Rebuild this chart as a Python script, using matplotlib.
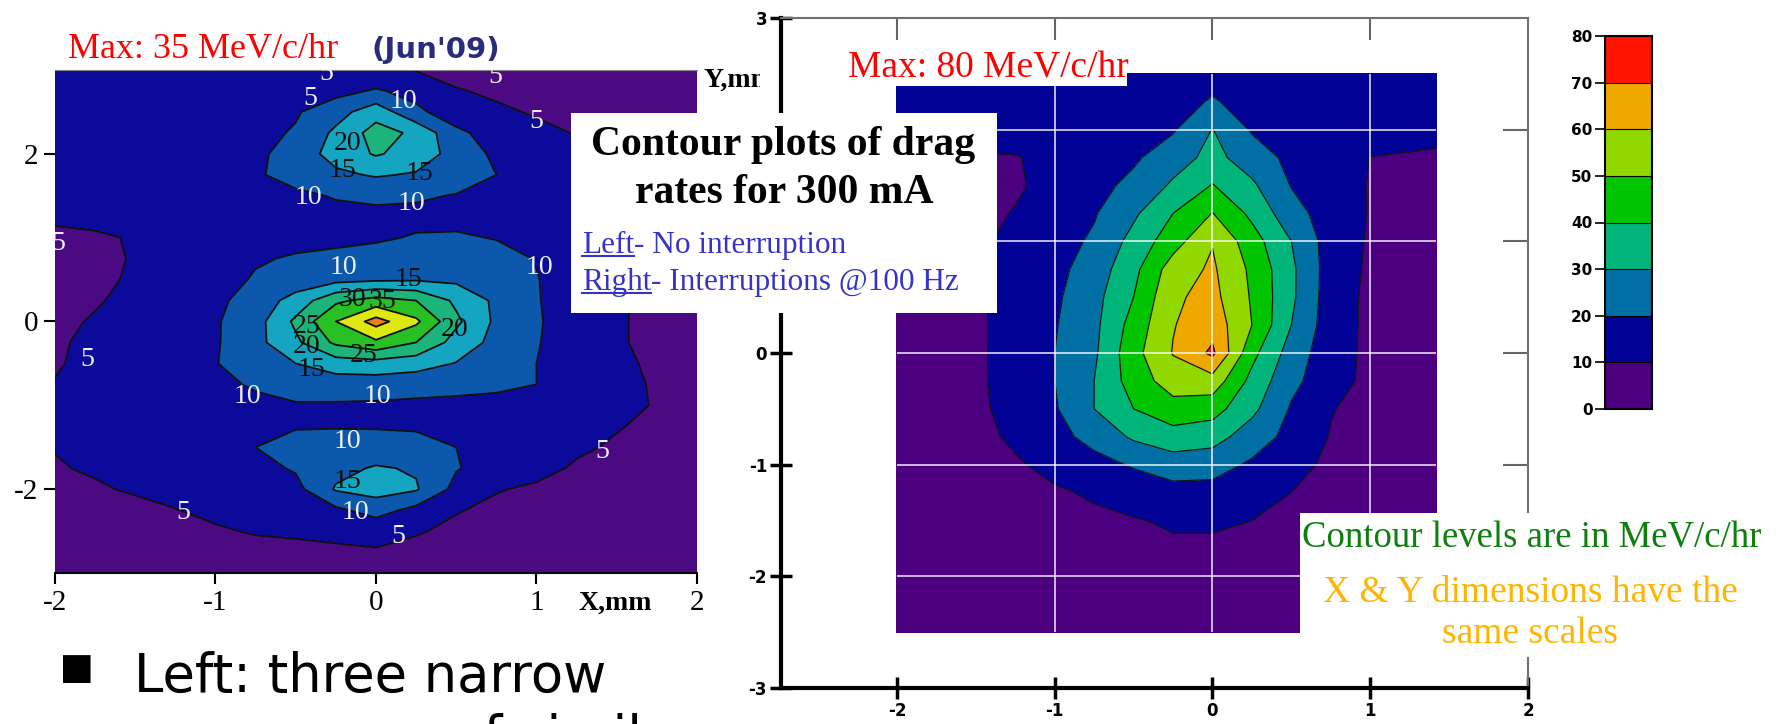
import matplotlib
matplotlib.use("Agg")
import matplotlib.pyplot as plt
from matplotlib.patches import Rectangle
from matplotlib.lines import Line2D

W, H = 1781, 724
SERIF = ["Liberation Serif", "DejaVu Serif"]
plt.rcParams["axes.unicode_minus"] = False

# ---- left panel: drag rate, no interruption (MeV/c/hr) ----
left_x = [-2.0, -1.75, -1.5, -1.25, -1.0, -0.75, -0.5, -0.25, 0.0,
          0.25, 0.5, 0.75, 1.0, 1.25, 1.5, 1.75, 2.0]
left_y = [3.0, 2.75, 2.5, 2.25, 2.0, 1.75, 1.5, 1.25, 1.0, 0.75, 0.5, 0.25, 0.0,
          -0.25, -0.5, -0.75, -1.0, -1.25, -1.5, -1.75, -2.0, -2.25, -2.5, -2.75, -3.0]
left_rate = [
    [6, 6, 6, 6, 6.5, 6.5, 5.5, 5.2, 6, 4.8, 3.5, 3, 3, 3, 3, 3, 3],
    [6, 6.5, 7, 7, 7, 7, 7.5, 8.5, 10.5, 8.5, 5.3, 4.3, 3.5, 3, 3, 3, 3],
    [6, 6.5, 7, 7, 7.5, 8, 9.5, 13, 18, 11, 7.5, 5.7, 4.6, 4, 3.5, 3, 3],
    [6, 6.5, 7, 7.5, 8, 8.5, 10.5, 16, 22, 19, 11, 8, 6, 4.8, 4, 3.5, 3],
    [6, 6.5, 7, 7.5, 8, 9, 12, 17, 20.5, 18, 13, 9, 7, 5.5, 4.5, 4, 3.5],
    [6, 6.5, 7, 7.5, 8, 9.5, 11.5, 14, 15.5, 14.5, 12, 10, 7.5, 6, 5, 4.5, 4],
    [6, 6.5, 7, 7.5, 8, 8.5, 9.2, 10.3, 10.8, 10.5, 9.8, 8.5, 7.5, 6, 5.2, 4.8, 4.5],
    [5.8, 6, 6.5, 7, 7.5, 8, 8.5, 8.8, 9, 9, 8.8, 8.5, 7.5, 6.5, 5.2, 4.5, 4],
    [4, 4.5, 5.3, 6.5, 7.5, 8, 8.5, 9, 9.5, 10.3, 10.5, 9.8, 8, 6.5, 5.2, 4.5, 4],
    [3.5, 4, 5.3, 6.5, 7.5, 9.5, 10.5, 11, 11.5, 12, 12, 11.5, 9.8, 7, 5.2, 4.5, 4],
    [3.5, 4.2, 5.5, 6.5, 8, 10.5, 12, 13.5, 14.2, 14.5, 14, 13, 10.2, 7.5, 5.3, 4.3, 3.8],
    [4, 4.8, 5.6, 7, 9, 12, 17, 24, 27, 25, 19, 14, 10.3, 7.5, 5.3, 4.3, 3.8],
    [4.5, 5.2, 6, 7.5, 9.5, 13, 21, 30, 37, 31, 21, 14, 10.5, 7.5, 5.3, 4.3, 3.8],
    [4.7, 5.5, 6.2, 7.5, 9.5, 13.5, 19, 26, 29, 25, 18, 13.5, 10.3, 7.5, 5.3, 4.3, 3.8],
    [4.8, 5.6, 6.3, 7.5, 9.8, 12.5, 15, 17.5, 18, 17, 14.8, 12.5, 10, 7.5, 5.6, 4.5, 3.8],
    [5.1, 6, 6.5, 7.5, 9, 10.5, 12, 12.5, 12.5, 12, 11.5, 11, 10, 7.5, 5.8, 4.7, 4],
    [5.3, 6, 6.5, 7, 8, 9, 9.6, 9.5, 9.3, 9, 8.8, 8.5, 8, 7, 5.8, 4.8, 4],
    [5.5, 6, 6.5, 7, 7.5, 8.5, 9.8, 9.8, 9.7, 9.5, 9, 8, 7, 6, 5.2, 4.3, 4],
    [5.1, 6, 6.3, 6.8, 7.5, 10, 11, 11.5, 11.8, 11.5, 10, 8, 6.5, 5.5, 4.6, 4, 4],
    [4.8, 5.3, 6.2, 6.5, 7, 8.5, 10.5, 13.5, 15.5, 14.5, 10.3, 8, 6, 4.6, 4.3, 4, 4],
    [4.3, 4.7, 5.3, 6, 6.5, 7, 8.5, 15.5, 17, 15.5, 8.5, 5.2, 4.5, 4, 3.8, 3.8, 3.8],
    [3.8, 4, 4.3, 4.9, 5.8, 6.3, 7, 9, 12, 8.5, 5.2, 4.3, 4, 3.8, 3.8, 3.8, 3.8],
    [3.5, 3.5, 3.6, 3.8, 4.6, 5.3, 5.6, 6, 6.5, 5.3, 4.3, 3.8, 3.6, 3.5, 3.5, 3.5, 3.5],
    [3.5, 3.5, 3.5, 3.5, 3.6, 3.8, 4, 4.3, 4.6, 4, 3.7, 3.5, 3.5, 3.5, 3.5, 3.5, 3.5],
    [3.5, 3.5, 3.5, 3.5, 3.5, 3.5, 3.5, 3.5, 3.5, 3.5, 3.5, 3.5, 3.5, 3.5, 3.5, 3.5, 3.5],
]
left_levels = [0, 5, 10, 15, 20, 25, 30, 35, 40]
left_colors = ["#4b0a82", "#0c0a9a", "#0c58ac", "#14a6c0",
               "#1cb47a", "#28c024", "#dce810", "#f07c18"]
left_labels = [
    ("5", -0.41, 2.66), ("5", -0.31, 2.96), ("10", 0.17, 2.63), ("5", 0.74, 2.92),
    ("5", 1.0, 2.39), ("20", -0.18, 2.12), ("15", -0.21, 1.8), ("15", 0.27, 1.76),
    ("10", -0.42, 1.48), ("10", 0.22, 1.41), ("5", -1.98, 0.93), ("10", -0.2, 0.65),
    ("15", 0.2, 0.5), ("10", 1.02, 0.64), ("25", -0.43, -0.06), ("30", -0.15, 0.26),
    ("35", 0.04, 0.24), ("20", 0.49, -0.1), ("20", -0.43, -0.3), ("25", -0.08, -0.41),
    ("15", -0.4, -0.57), ("5", -1.8, -0.45), ("10", -0.8, -0.89), ("10", 0.01, -0.89),
    ("10", -0.18, -1.43), ("5", 1.41, -1.55), ("15", -0.18, -1.91), ("5", -1.2, -2.28),
    ("10", -0.13, -2.28), ("5", 0.14, -2.56),
]

# ---- right panel: drag rate, interruptions @100 Hz ----
right_x = [-2.0, -1.75, -1.5, -1.25, -1.0, -0.75, -0.5, -0.25, 0.0,
           0.25, 0.5, 0.75, 1.0, 1.25, 1.42]
right_y = [2.5, 2.25, 2.0, 1.75, 1.5, 1.25, 1.0, 0.75, 0.5, 0.25, 0.0,
           -0.25, -0.5, -0.75, -1.0, -1.25, -1.5, -1.75, -2.0, -2.25, -2.5]
right_rate = [
    [13, 13, 13, 13, 13.5, 14, 15, 16.5, 18, 16.5, 15, 14, 13.5, 13, 13],
    [12.5, 12.5, 12.5, 12.5, 13.5, 14.5, 16, 18, 20.5, 18, 16, 14.5, 13.5, 12.5, 12.5],
    [12, 12, 12, 12, 13, 14.5, 16, 19, 30.3, 19, 16, 14.5, 13, 12, 12],
    [9, 9.2, 9.5, 9.8, 11, 14.5, 18.5, 25.5, 33, 25, 17.5, 13.5, 9.9, 9.5, 9],
    [8, 8.5, 9, 9.5, 11.3, 16.8, 22.6, 31.5, 40.5, 31.7, 19.6, 14.5, 9.5, 8, 7.5],
    [7, 8, 9, 10.2, 15, 19.2, 28.3, 40, 50.3, 37.7, 23.8, 15.2, 9.5, 7.5, 6.5],
    [6, 7.5, 8.5, 12.2, 16.3, 21.4, 33.3, 45.7, 59.5, 44.4, 30, 15.4, 9, 7, 6],
    [5.5, 7, 8.5, 12.6, 17.2, 24.5, 37.2, 55, 61.5, 48, 32, 15.2, 8.5, 6.5, 5.5],
    [5, 6.5, 8.5, 13.6, 18.3, 26.8, 40, 58.5, 63, 49, 31.9, 14.8, 8, 6, 5],
    [5, 6.5, 8.5, 13.6, 19.3, 27.5, 44, 59.5, 66, 50, 30, 14.5, 8, 6, 5],
    [5, 6.5, 8.5, 13.6, 20, 28.3, 46.7, 60.5, 72, 43, 25.6, 14, 8, 6, 5],
    [5, 6.5, 8.5, 13.6, 20, 30, 44.5, 55, 56, 37, 22.5, 14, 7.5, 6, 5],
    [5, 6.5, 8.5, 12.5, 19, 30, 40, 46, 44, 32.5, 19, 10.5, 7, 5.5, 5],
    [5, 6, 7.5, 11.5, 16.5, 23.5, 31.5, 36, 34, 25, 17, 9.5, 7, 5.5, 5],
    [4.5, 5.5, 7, 9, 12.5, 16.5, 21, 25, 24, 18.5, 12.5, 8.5, 6.5, 5.5, 5],
    [4.5, 5, 6, 7.5, 9, 11, 14, 16.5, 16.5, 13.5, 10, 7.5, 6, 5, 4.5],
    [4.5, 5, 5.5, 6.5, 7.5, 8.5, 9.5, 11, 11, 10, 8.5, 7, 6, 5, 4.5],
    [4.5, 5, 5.5, 6, 6.5, 7, 8, 8.8, 8.8, 8, 7, 6.5, 5.5, 5, 4.5],
    [4.5, 5, 5, 5.5, 6, 6.5, 7, 7.5, 7.5, 7, 6.5, 6, 5.5, 5, 4.5],
    [4.5, 4.5, 5, 5, 5.5, 6, 6.5, 6.5, 6.5, 6.5, 6, 5.5, 5, 5, 4.5],
    [4.5, 4.5, 4.5, 5, 5, 5.5, 5.5, 6, 6, 5.5, 5.5, 5, 5, 4.5, 4.5],
]
right_levels = [0, 10, 20, 30, 40, 50, 60, 70, 80]
right_colors = ["#4c0080", "#020296", "#0070a4", "#00b47a",
                "#00c400", "#90d800", "#eea800", "#ff1400"]
right_xticks = [-2, -1, 0, 1, 2]
right_yticks = [-3, -2, -1, 0, 1, 2, 3]
# labels for y = 1 and 2 sit under the caption box
right_ylabels = ["-3", "-2", "-1", "0", "", "", "3"]


def box(x0, y0, x1, y1):
    # pixel box (top-left origin) -> figure fraction rect
    return [x0 / W, 1 - y1 / H, (x1 - x0) / W, (y1 - y0) / H]


def ftext(x, y, s, **kw):
    return fig.text(x / W, 1 - y / H, s, **kw)


def white_patch(x0, y0, x1, y1, z=5):
    fig.add_artist(Rectangle((x0 / W, 1 - y1 / H), (x1 - x0) / W, (y1 - y0) / H,
                             transform=fig.transFigure, facecolor="white",
                             edgecolor="none", zorder=z))


fig = plt.figure(figsize=(W / 100, H / 100), dpi=100, facecolor="white")

# left contour plot
ax1 = fig.add_axes(box(55, 70, 697, 573))
ax1.contourf(left_x, left_y, left_rate, levels=left_levels, colors=left_colors)
ax1.contour(left_x, left_y, left_rate, levels=left_levels[1:-1],
            colors="#101010", linewidths=1.3)
for s, x, y in left_labels:
    col = "#eeeeff" if s in ("5", "10") else "#101010"
    ax1.text(x, y, s, color=col, fontsize=20, family=SERIF,
             ha="center", va="center", clip_on=True)
ax1.set_xlim(-2, 2)
ax1.set_ylim(-3, 3)
ax1.set_xticks([-2, -1, 0, 1, 2])
ax1.set_yticks([-2, 0, 2])
ax1.tick_params(direction="out", length=8, width=1.5, labelsize=21, pad=4)
for lab in ax1.get_xticklabels() + ax1.get_yticklabels():
    lab.set_family(SERIF)
ax1.spines["left"].set_visible(False)
ax1.spines["right"].set_visible(False)
ax1.spines["top"].set_color("#888888")
ax1.spines["bottom"].set_linewidth(1.5)

ftext(68, 58, "Max: 35 MeV/c/hr", color="red", fontsize=26, family=SERIF)
ftext(372, 58, "(Jun'09)", color="#2b2b7e", fontsize=21, fontweight="bold",
      family="DejaVu Sans")
ftext(704, 87, "Y,mm", fontsize=20, fontweight="bold", family=SERIF, zorder=3)
white_patch(760, 62, 775, 96, z=4)
ftext(579, 610, "X,mm", fontsize=20, fontweight="bold", family=SERIF)

# right contour plot
ax2 = fig.add_axes(box(781, 18, 1528, 688))
cf2 = ax2.contourf(right_x, right_y, right_rate, levels=right_levels,
                   colors=right_colors, zorder=1)
ax2.contour(right_x, right_y, right_rate, levels=right_levels[1:-1],
            colors="#151515", linewidths=0.9, zorder=1.5)
ax2.vlines([-1, 0, 1], -2.5, 2.5, colors="white", linewidth=1.2, alpha=0.85, zorder=2)
ax2.hlines([-2, -1, 0, 1, 2], -2, 1.42, colors="white", linewidth=1.2, alpha=0.85, zorder=2)
ax2.set_xlim(-2.735, 2)
ax2.set_ylim(-3, 3)
ax2.set_xticks(right_xticks)
ax2.set_yticks(right_yticks, right_ylabels)
ax2.tick_params(direction="inout", length=16, width=2.5, labelsize=12, pad=2)
for lab in ax2.get_xticklabels() + ax2.get_yticklabels():
    lab.set_fontweight("bold")
for side in ("left", "bottom"):
    ax2.spines[side].set_linewidth(3)
for side in ("top", "right"):
    ax2.spines[side].set_linewidth(1.5)
    ax2.spines[side].set_color("#707070")
top = ax2.secondary_xaxis("top")
top.set_xticks([-2, -1, 0, 1])
top.tick_params(direction="in", length=16, width=1.5, color="#666666", labeltop=False)
top.spines["top"].set_visible(False)
rgt = ax2.secondary_yaxis("right")
rgt.set_yticks([-2, -1, 0, 1, 2])
rgt.tick_params(direction="in", length=18, width=1.5, color="#666666", labelright=False)
rgt.spines["right"].set_visible(False)

# colour scale
cax = fig.add_axes(box(1605, 36, 1652, 409))
cb = fig.colorbar(cf2, cax=cax, ticks=right_levels, drawedges=True)
cb.outline.set_linewidth(1.5)
cb.dividers.set_linewidth(0.8)
cax.yaxis.set_ticks_position("left")
cax.tick_params(length=7, width=1.2, labelsize=11, pad=2)
for lab in cax.get_yticklabels():
    lab.set_fontweight("bold")

# annotation boxes
white_patch(840, 40, 1127, 86)
ftext(848, 77, "Max: 80 MeV/c/hr", color="red", fontsize=27, family=SERIF, zorder=6)

white_patch(571, 113, 997, 313)
ftext(783, 155, "Contour plots of drag", fontsize=30, fontweight="bold",
      family=SERIF, ha="center", zorder=6)
ftext(784, 203, "rates for 300 mA", fontsize=30, fontweight="bold",
      family=SERIF, ha="center", zorder=6)

renderer = fig.canvas.get_renderer()
for head, tail, base in [("Left", "- No interruption", 253),
                         ("Right", "- Interruptions @100 Hz", 290)]:
    kw = dict(color="#3434c8", fontsize=22.5, family=SERIF, zorder=6)
    t = ftext(582, base, head, **kw)
    bb = t.get_window_extent(renderer)
    fig.text(bb.x1 / W, 1 - base / H, tail, **kw)
    uy = 1 - (base + 3) / H
    fig.add_artist(Line2D([bb.x0 / W, bb.x1 / W], [uy, uy], color="#3434c8",
                          lw=1.5, transform=fig.transFigure, zorder=6))

white_patch(1300, 513, 1781, 657)
ftext(1302, 548, "Contour levels are in MeV/c/hr", color="#0c800c",
      fontsize=26.5, family=SERIF, zorder=6)
ftext(1530, 602, "X & Y dimensions have the", color="#ffb400",
      fontsize=27, family=SERIF, ha="center", zorder=6)
ftext(1530, 643, "same scales", color="#ffb400",
      fontsize=27, family=SERIF, ha="center", zorder=6)

# bullet text at the bottom
ftext(58, 684, "\u25aa", fontsize=40, family="DejaVu Sans")
ftext(134, 692, "Left: three narrow", fontsize=38, family="DejaVu Sans")
ftext(134, 754, "resonances of similar", fontsize=38, family="DejaVu Sans")

fig.savefig("out.png", dpi=100)
